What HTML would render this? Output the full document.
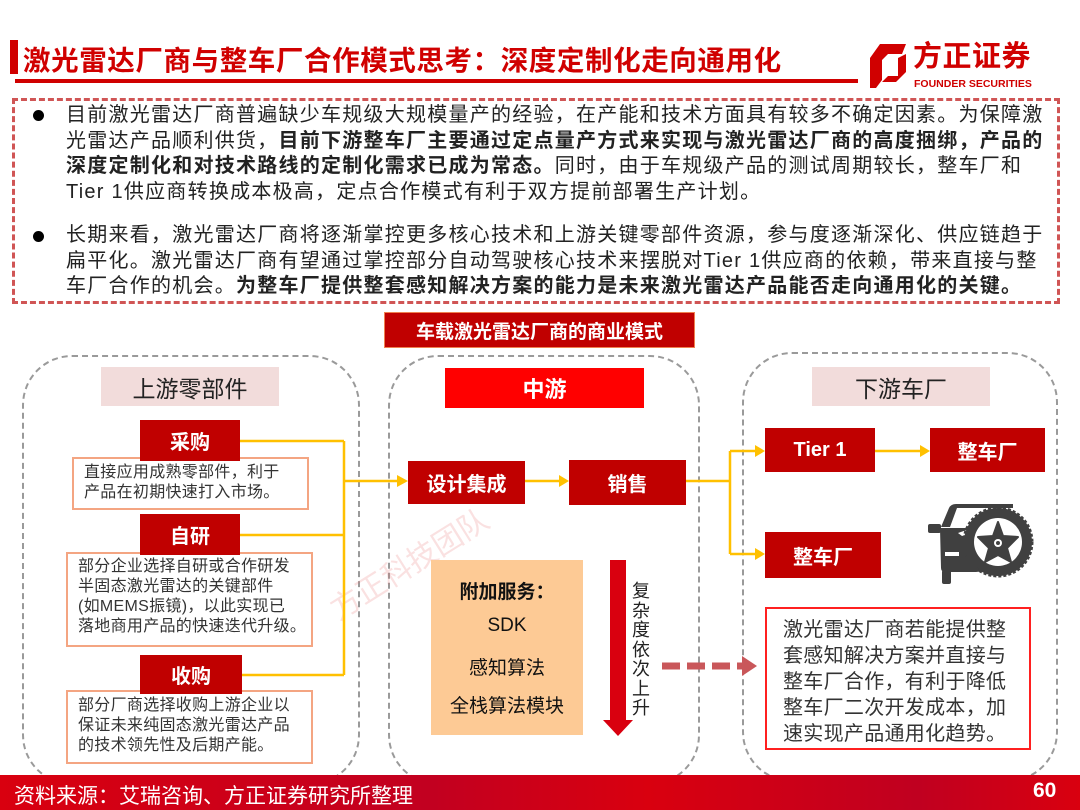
<!DOCTYPE html>
<html><head><meta charset="utf-8"><style>
*{margin:0;padding:0;box-sizing:border-box}
body{width:1080px;height:810px;position:relative;background:#fff;font-family:"Liberation Sans","Noto Sans CJK SC",sans-serif;overflow:hidden;color:#222}
.a{position:absolute}
.red{background:#c00000;color:#fff;font-weight:bold;display:flex;align-items:center;justify-content:center}
.p{position:absolute;left:66px;font-size:20px;letter-spacing:1.25px;line-height:25.5px;white-space:nowrap;color:#222}
.desc{position:absolute;border:2px solid #f4a582;background:#fff;font-size:16px;line-height:20px;color:#333;letter-spacing:0.3px}
.dash{position:absolute;border:2px dashed #9a9a9a;border-radius:50px}
</style></head><body>
<!-- title -->
<div class="a" style="left:10px;top:40px;width:8px;height:34px;background:#d00000"></div>
<div class="a" style="left:23px;top:38px;font-size:27.5px;font-weight:bold;color:#d00000;white-space:nowrap;letter-spacing:0.6px">激光雷达厂商与整车厂合作模式思考：深度定制化走向通用化</div>
<div class="a" style="left:15px;top:79px;width:843px;height:4px;background:#d00000"></div>
<!-- logo -->
<svg class="a" style="left:866px;top:42px" width="46" height="50"><path d="M14 2 H40 L36 12 H22 L16 18 V38 L10 46 H4 V16 Z" fill="#d00000"/><path d="M40 12 V30 L30 40 H16 L22 34 H32 V16 Z" fill="#d00000"/></svg>
<div class="a" style="left:913px;top:40px;font-size:29px;line-height:34px;font-weight:bold;color:#d00000;letter-spacing:0.5px;white-space:nowrap">方正证券</div>
<div class="a" style="left:914px;top:78px;font-size:10.5px;line-height:12px;font-weight:bold;color:#d00000;white-space:nowrap">FOUNDER SECURITIES</div>
<!-- text box -->
<div class="a" style="left:12px;top:98px;width:1048px;height:206px;border:3px dashed #d05555"></div>
<div class="a" style="left:33px;top:110px;width:11px;height:11px;border-radius:50%;background:#000"></div>
<div class="a" style="left:33px;top:231px;width:11px;height:11px;border-radius:50%;background:#000"></div>
<div class="p" style="top:103px">目前激光雷达厂商普遍缺少车规级大规模量产的经验，在产能和技术方面具有较多不确定因素。为保障激<br>光雷达产品顺利供货，<b>目前下游整车厂主要通过定点量产方式来实现与激光雷达厂商的高度捆绑，产品的</b><br><b>深度定制化和对技术路线的定制化需求已成为常态。</b>同时，由于车规级产品的测试周期较长，整车厂和<br>Tier 1供应商转换成本极高，定点合作模式有利于双方提前部署生产计划。</div>
<div class="p" style="top:223px">长期来看，激光雷达厂商将逐渐掌控更多核心技术和上游关键零部件资源，参与度逐渐深化、供应链趋于<br>扁平化。激光雷达厂商有望通过掌控部分自动驾驶核心技术来摆脱对Tier 1供应商的依赖，带来直接与整<br>车厂合作的机会。<b>为整车厂提供整套感知解决方案的能力是未来激光雷达产品能否走向通用化的关键。</b></div>
<!-- section title -->
<div class="a red" style="left:384px;top:312px;width:311px;height:36px;font-size:19px;border:1px solid #f08050">车载激光雷达厂商的商业模式</div>
<!-- dashed containers -->
<div class="dash" style="left:22px;top:355px;width:338px;height:430px"></div>
<div class="dash" style="left:388px;top:355px;width:312px;height:430px"></div>
<div class="dash" style="left:742px;top:352px;width:316px;height:430px"></div>
<!-- watermark -->
<div class="a" style="left:318px;top:540px;font-size:30px;color:rgba(230,120,120,0.22);transform:rotate(-32deg);white-space:nowrap">方正科技团队</div>
<!-- upstream -->
<div class="a" style="left:101px;top:367px;width:178px;height:39px;background:#f2dcdb;font-size:23px;display:flex;align-items:center;justify-content:center;color:#222">上游零部件</div>
<div class="desc" style="left:72px;top:457px;width:237px;height:53px;padding:4px 0 0 10px">直接应用成熟零部件，利于<br>产品在初期快速打入市场。</div>
<div class="a red" style="left:140px;top:420px;width:100px;height:41px;font-size:20px">采购</div>
<div class="desc" style="left:66px;top:552px;width:247px;height:95px;padding:3px 0 0 10px">部分企业选择自研或合作研发<br>半固态激光雷达的关键部件<br>(如MEMS振镜)，以此实现已<br>落地商用产品的快速迭代升级。</div>
<div class="a red" style="left:140px;top:514px;width:100px;height:41px;font-size:20px">自研</div>
<div class="desc" style="left:66px;top:690px;width:247px;height:74px;padding:4px 0 0 10px">部分厂商选择收购上游企业以<br>保证未来纯固态激光雷达产品<br>的技术领先性及后期产能。</div>
<div class="a red" style="left:140px;top:655px;width:102px;height:39px;font-size:20px">收购</div>
<!-- middle -->
<div class="a" style="left:445px;top:368px;width:199px;height:40px;background:#ff0000;color:#fff;font-weight:bold;font-size:22px;display:flex;align-items:center;justify-content:center">中游</div>
<div class="a red" style="left:408px;top:461px;width:117px;height:43px;font-size:20px">设计集成</div>
<div class="a red" style="left:569px;top:460px;width:117px;height:45px;font-size:20px">销售</div>
<div class="a" style="left:431px;top:560px;width:152px;height:175px;background:#fdca95"></div>
<div class="a" style="left:431px;top:577px;width:152px;text-align:center;font-size:19px;font-weight:bold;color:#111">附加服务：</div>
<div class="a" style="left:431px;top:615px;width:152px;text-align:center;font-size:19px;color:#111">SDK</div>
<div class="a" style="left:431px;top:653px;width:152px;text-align:center;font-size:19px;color:#111">感知算法</div>
<div class="a" style="left:431px;top:691px;width:152px;text-align:center;font-size:19px;color:#111">全栈算法模块</div>
<div class="a" style="left:632px;top:582px;width:20px;font-size:18px;line-height:19.5px;color:#222">复杂度依次上升</div>
<!-- downstream -->
<div class="a" style="left:812px;top:367px;width:178px;height:39px;background:#f2dcdb;font-size:23px;display:flex;align-items:center;justify-content:center;color:#222">下游车厂</div>
<div class="a red" style="left:765px;top:428px;width:110px;height:44px;font-size:20px">Tier 1</div>
<div class="a red" style="left:930px;top:428px;width:115px;height:44px;font-size:20px">整车厂</div>
<div class="a red" style="left:765px;top:532px;width:116px;height:46px;font-size:20px">整车厂</div>
<div class="a" style="left:765px;top:607px;width:266px;height:143px;border:2px solid #ff2020;font-size:20px;line-height:26px;color:#333;padding:8px 0 0 16px;letter-spacing:0.3px">激光雷达厂商若能提供整<br>套感知解决方案并直接与<br>整车厂合作，有利于降低<br>整车厂二次开发成本，加<br>速实现产品通用化趋势。</div>
<!-- connectors -->
<svg class="a" style="left:0;top:0" width="1080" height="810">
<g stroke="#ffc000" stroke-width="2.5" fill="none">
<path d="M240 441 H344 M240 535 H344 M242 675 H344 M344 441 V675 M344 481 H398"/>
<path d="M525 481 H561"/>
<path d="M686 481 H730 M730 451 V554 M730 451 H757 M730 554 H757"/>
<path d="M875 451 H922"/>
</g>
<g fill="#ffc000">
<path d="M397 475 L408 481 L397 487Z"/><path d="M559 475 L569 481 L559 487Z"/>
<path d="M755 445 L765 451 L755 457Z"/><path d="M755 548 L765 554 L755 560Z"/><path d="M920 445 L930 451 L920 457Z"/>
</g>
<path d="M610 560 H626 V720 H633 L618 736 L603 720 H610Z" fill="#d9000f"/>
<path d="M662 666 H742" stroke="#c9575a" stroke-width="7" stroke-dasharray="18 7"/>
<path d="M742 656 L757 666 L742 676Z" fill="#c9575a"/>
<!-- car -->
<g fill="#404040">
<path d="M941 527 L949 508 Q951 504 956 504 H1013 V508 H957 L950 527 Z"/>
<path d="M940 528 H985 L982 568 Q981 572 976 572 H946 Q941 572 941 568 Z"/>
<rect x="928" y="524" width="13" height="9" rx="2"/>
<rect x="942" y="570" width="9" height="14" rx="2"/>
</g>
<g fill="#fff"><rect x="945" y="552" width="14" height="4"/><path d="M958 533 L978 526 V531 L962 536Z"/></g>
<circle cx="998" cy="542" r="34" fill="#404040" stroke="#404040" stroke-width="3" stroke-dasharray="3 2"/>
<circle cx="998" cy="542" r="24" fill="#fff"/>
<path d="M998 522 L1003 536 L1018 537 L1007 548 L1011 562 L998 555 L985 562 L989 548 L978 537 L993 536Z" fill="#404040" stroke="#404040" stroke-width="2" stroke-linejoin="round"/>
<circle cx="998" cy="543" r="4" fill="#fff"/><circle cx="998" cy="543" r="2" fill="#404040"/>
</svg>
<!-- footer -->
<div class="a" style="left:0;top:775px;width:1080px;height:35px;background:linear-gradient(90deg,#d9000f,#c20020 40%,#d9000f 60%,#c00020 85%,#d9000f)"></div>
<div class="a" style="left:14px;top:780px;font-size:21px;color:#fff;white-space:nowrap">资料来源：艾瑞咨询、方正证券研究所整理</div>
<div class="a" style="left:1033px;top:779px;font-size:21px;font-weight:bold;color:#fff">60</div>
</body></html>
